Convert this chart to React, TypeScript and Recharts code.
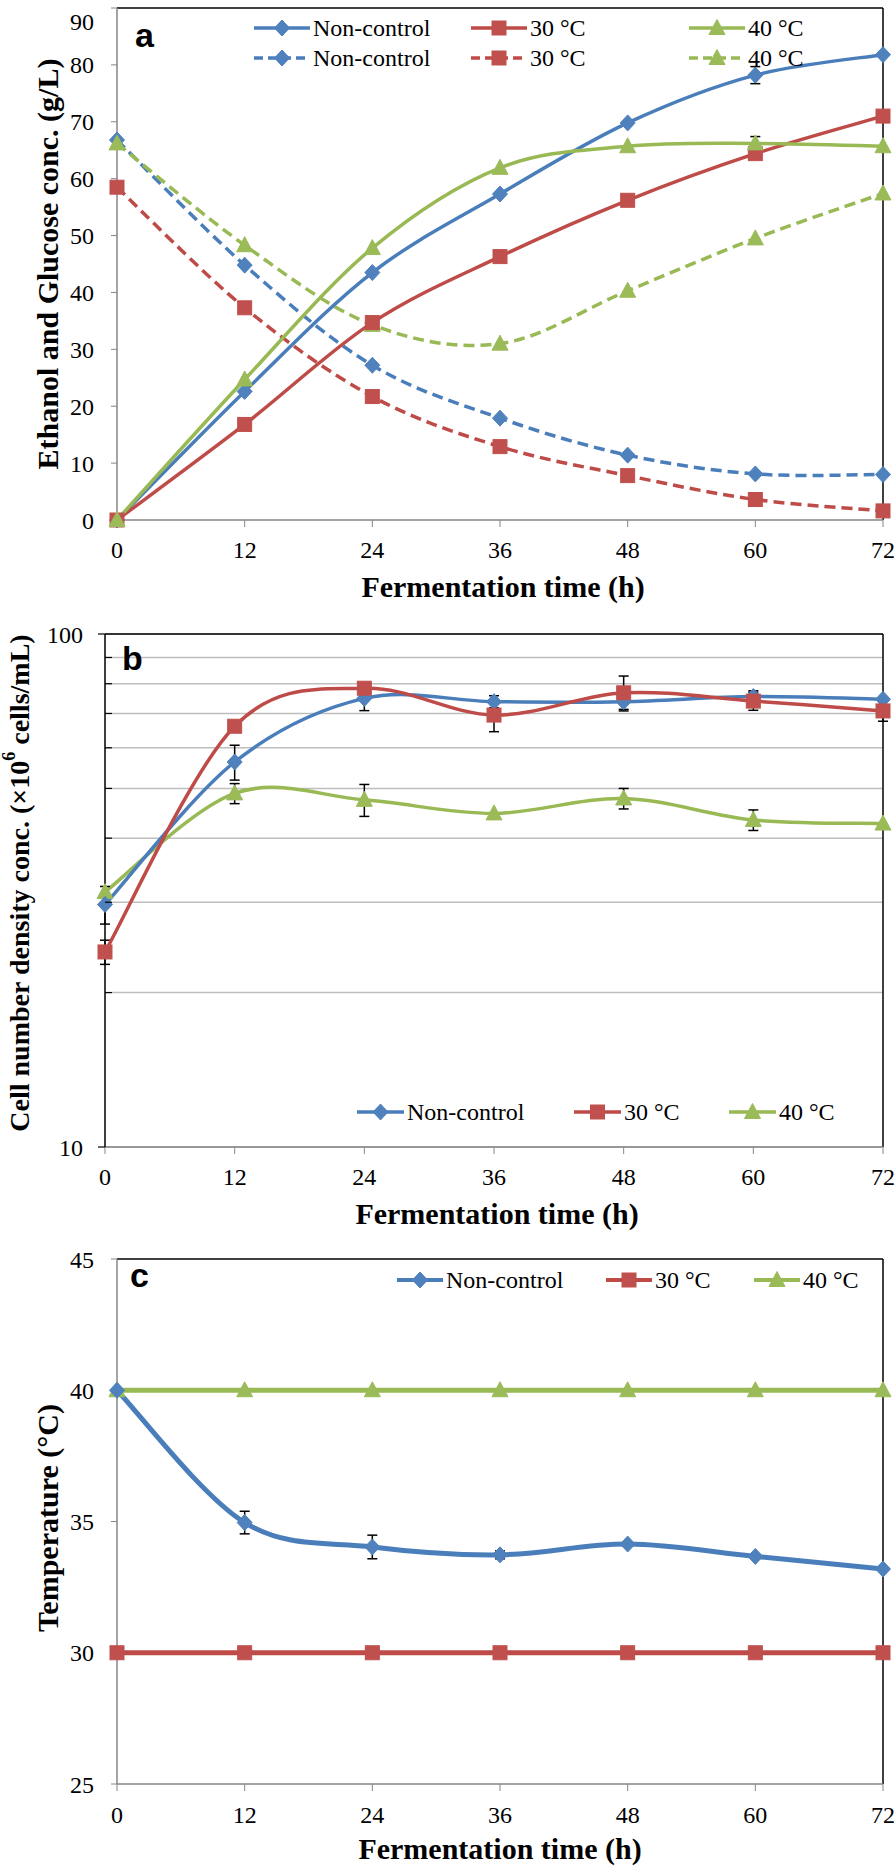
import React from 'react';
import { LineChart, Line, XAxis, YAxis, CartesianGrid, ErrorBar, ReferenceLine, Legend } from 'recharts';

// ---------- data ----------
const hours = [0, 12, 24, 36, 48, 60, 72];
const xTicks = [0, 12, 24, 36, 48, 60, 72];

// Panel a: ethanol (solid) and glucose (dashed), g/L
const ethanolNonControl = [0, 22.6, 43.5, 57.3, 69.8, 78.2, 81.8];
const ethanol30 = [0, 16.8, 34.7, 46.3, 56.2, 64.4, 71.0];
const ethanol40 = [0, 24.7, 47.8, 61.9, 65.7, 66.2, 65.7];
const glucoseNonControl = [66.8, 44.8, 27.2, 17.9, 11.4, 8.1, 8.0];
const glucose30 = [58.5, 37.3, 21.7, 12.9, 7.8, 3.6, 1.6];
const glucose40 = [66.2, 48.3, 34.3, 31.0, 40.3, 49.5, 57.4];
const ethanolNonControlErr = [null, null, null, null, null, 1.5, null];
const ethanol40Err = [null, null, null, null, null, 1.2, null];
const aTicks = [0, 10, 20, 30, 40, 50, 60, 70, 80, 90];

// Panel b: cell number density (x10^6 cells/mL), log axis
const cellNonControl = [29.7, 56.3, 74.9, 73.8, 73.8, 75.5, 74.6];
const cell30 = [24.0, 66.1, 78.4, 69.5, 76.8, 74.0, 70.8];
const cell40 = [31.4, 48.9, 47.5, 44.7, 47.8, 43.4, 42.7];
const cellNonControlErr = [2.5, 4.4, 4.0, 2.0, 2.5, 2.0, null];
const cell30Err = [1.3, null, 1.5, 5.0, 6.0, 3.0, 3.2];
const cell40Err = [null, 2.2, 3.4, null, 2.2, 2.0, null];
const bTicks = [10, 20, 30, 40, 50, 60, 70, 80, 90, 100];
const bMajorTicks = [10, 100];

// Panel c: temperature (°C)
const tempNonControl = [40, 34.96, 34.03, 33.73, 34.14, 33.67, 33.19];
const temp30 = [30, 30, 30, 30, 30, 30, 30];
const temp40 = [40, 40, 40, 40, 40, 40, 40];
const tempNonControlErr = [null, 0.43, 0.45, 0.15, null, null, null];
const cTicks = [25, 30, 35, 40, 45];

const seriesNames = ['Non-control', '30 °C', '40 °C'];

// ---------- styles ----------
const BLUE = '#4A7EBB';
const RED = '#BE4B48';
const GREEN = '#98B954';
const BLUE_M = '#4F81BD';
const RED_M = '#C0504D';
const GREEN_M = '#9BBB59';
const GRAY_AXIS = '#868686';
const SERIF = '"Liberation Serif", "Times New Roman", serif';
const SANS = '"Liberation Sans", Arial, sans-serif';

const rowsA = hours.map((h, i) => ({
  h,
  ethNC: ethanolNonControl[i],
  eth30: ethanol30[i],
  eth40: ethanol40[i],
  gluNC: glucoseNonControl[i],
  glu30: glucose30[i],
  glu40: glucose40[i],
  ethNCErr: ethanolNonControlErr[i],
  eth40Err: ethanol40Err[i],
}));

const rowsB = hours.map((h, i) => ({
  h,
  nc: cellNonControl[i],
  t30: cell30[i],
  t40: cell40[i],
  ncErr: cellNonControlErr[i],
  t30Err: cell30Err[i],
  t40Err: cell40Err[i],
}));

const rowsC = hours.map((h, i) => ({
  h,
  nc: tempNonControl[i],
  t30: temp30[i],
  t40: temp40[i],
  ncErr: tempNonControlErr[i],
}));

// Excel-like smoothed line (Catmull-Rom Bezier)
function excelCurve(context: any) {
  let pts: number[][] = [];
  return {
    areaStart() {},
    areaEnd() {},
    lineStart() {
      pts = [];
    },
    point(x: number, y: number) {
      pts.push([+x, +y]);
    },
    lineEnd() {
      const n = pts.length;
      if (!n) return;
      context.moveTo(pts[0][0], pts[0][1]);
      if (n === 1) return;
      if (n === 2) {
        context.lineTo(pts[1][0], pts[1][1]);
        return;
      }
      for (let i = 0; i < n - 1; i++) {
        const p0 = pts[i > 0 ? i - 1 : i];
        const p1 = pts[i];
        const p2 = pts[i + 1];
        const p3 = pts[i + 2 < n ? i + 2 : i + 1];
        context.bezierCurveTo(
          p1[0] + (p2[0] - p0[0]) / 6,
          p1[1] + (p2[1] - p0[1]) / 6,
          p2[0] - (p3[0] - p1[0]) / 6,
          p2[1] - (p3[1] - p1[1]) / 6,
          p2[0],
          p2[1]
        );
      }
    },
  };
}

type Shape = 'diamond' | 'square' | 'triangle';

function Marker({ cx, cy, shape, color }: { cx: number; cy: number; shape: Shape; color: string }) {
  if (shape === 'diamond') {
    return (
      <polygon
        points={`${cx},${cy - 8} ${cx + 7.5},${cy} ${cx},${cy + 8} ${cx - 7.5},${cy}`}
        fill={color}
        stroke={color}
        strokeWidth={1}
      />
    );
  }
  if (shape === 'square') {
    return <rect x={cx - 7} y={cy - 7} width={14} height={14} fill={color} stroke={color} strokeWidth={1} />;
  }
  return (
    <polygon
      points={`${cx},${cy - 8.5} ${cx + 8},${cy + 6.5} ${cx - 8},${cy + 6.5}`}
      fill={color}
      stroke={color}
      strokeWidth={1}
    />
  );
}

const makeDot = (shape: Shape, color: string) => (props: any) => {
  const { cx, cy, index } = props;
  if (cx == null || cy == null || isNaN(cx) || isNaN(cy)) return <g key={`d-${index}`} />;
  return (
    <g key={`d-${index}`}>
      <Marker cx={cx} cy={cy} shape={shape} color={color} />
    </g>
  );
};

type LegendEntry = { x: number; y: number; w: number; label: string; color: string; mcolor: string; shape: Shape; dashed?: boolean; lw: number };

function LegendItems({ items }: { items: LegendEntry[] }) {
  return (
    <div style={{ position: 'relative' }}>
      {items.map((it, i) => (
        <div
          key={i}
          style={{
            position: 'absolute',
            left: it.x,
            top: it.y - 14,
            height: 28,
            display: 'flex',
            alignItems: 'center',
            whiteSpace: 'nowrap',
          }}
        >
          <svg width={it.w} height={28} style={{ display: 'block' }}>
            <line
              x1={0}
              y1={14}
              x2={it.w}
              y2={14}
              stroke={it.color}
              strokeWidth={it.lw}
              strokeDasharray={it.dashed ? '9 5' : undefined}
            />
            <Marker cx={it.w / 2} cy={14} shape={it.shape} color={it.mcolor} />
          </svg>
          <span style={{ fontFamily: SERIF, fontSize: 24, color: '#000', marginLeft: 3, lineHeight: '28px' }}>
            {it.label}
          </span>
        </div>
      ))}
    </div>
  );
}

const YTitle = ({ cx, cy, size, children }: any) => (
  <text
    x={cx}
    y={cy}
    transform={`rotate(-90 ${cx} ${cy})`}
    textAnchor="middle"
    dominantBaseline="central"
    fontFamily={SERIF}
    fontWeight="bold"
    fontSize={size}
    fill="#000"
  >
    {children}
  </text>
);

const XTitle = ({ cx, by, text }: any) => (
  <text x={cx} y={by} textAnchor="middle" fontFamily={SERIF} fontWeight="bold" fontSize={30} fill="#000">
    {text}
  </text>
);

const tickStyle = { fill: '#000', fontSize: 24, fontFamily: SERIF };

// Y tick for panel a: keeps the top label inside the picture
const ATick = (props: any) => {
  const { x, y, payload } = props;
  const v = payload?.value;
  const shift = y < 20 ? 21 - y : 0;
  return (
    <text x={x} y={y + shift} dy="0.355em" textAnchor="end" fill="#000" fontSize={24} fontFamily={SERIF}>
      {v}
    </text>
  );
};

// Log axis tick: major ticks (with labels) outward, minor ticks inward
const LogTick = (props: any) => {
  const { x, y, payload } = props;
  const v = payload?.value;
  const axisX = x + 22;
  const major = bMajorTicks.includes(v);
  return (
    <g>
      <line x1={major ? axisX - 7 : axisX} y1={y} x2={major ? axisX : axisX + 7} y2={y} stroke="#000" strokeWidth={1.2} />
      {major ? (
        <text x={x} y={y} dy="0.355em" textAnchor="end" fill="#000" fontSize={24} fontFamily={SERIF}>
          {v}
        </text>
      ) : null}
    </g>
  );
};

const shapes: Shape[] = ['diamond', 'square', 'triangle'];
const lineColors = [BLUE, RED, GREEN];
const markColors = [BLUE_M, RED_M, GREEN_M];

const legendA: LegendEntry[] = [
  ...[254, 471, 689].map((x, i) => ({ x, y: 28, w: 56, label: seriesNames[i], color: lineColors[i], mcolor: markColors[i], shape: shapes[i], lw: 3.5 })),
  ...[254, 471, 689].map((x, i) => ({ x, y: 58, w: 56, label: seriesNames[i], color: lineColors[i], mcolor: markColors[i], shape: shapes[i], dashed: true, lw: 3.5 })),
];
const legendB: LegendEntry[] = [357, 574, 729].map((x, i) => ({
  x, y: 507, w: 47, label: seriesNames[i], color: lineColors[i], mcolor: markColors[i], shape: shapes[i], lw: 3.5,
}));
const legendC: LegendEntry[] = [397, 606, 754].map((x, i) => ({
  x, y: 35, w: 46, label: seriesNames[i], color: lineColors[i], mcolor: markColors[i], shape: shapes[i], lw: 4,
}));

const legendWrap = { left: 0, top: 0, width: 0, height: 0, position: 'absolute' as const };

function PanelA() {
  return (
    <LineChart width={896} height={620} data={rowsA} margin={{ top: 8, right: 13, bottom: 60, left: 57 }}>
      <XAxis
        dataKey="h"
        type="number"
        domain={[0, 72]}
        ticks={xTicks}
        height={40}
        tick={tickStyle}
        tickSize={7}
        tickMargin={14}
        axisLine={{ stroke: GRAY_AXIS, strokeWidth: 1.5 }}
        tickLine={{ stroke: GRAY_AXIS }}
        label={<XTitle cx={503} by={597} text="Fermentation time (h)" />}
      />
      <YAxis
        type="number"
        domain={[0, 90]}
        ticks={aTicks}
        width={60}
        tick={<ATick />}
        tickSize={6}
        tickMargin={17}
        interval={0}
        axisLine={{ stroke: GRAY_AXIS, strokeWidth: 1.5 }}
        tickLine={{ stroke: GRAY_AXIS }}
        label={<YTitle cx={47} cy={264} size={30}>Ethanol and Glucose conc. (g/L)</YTitle>}
      />
      <ReferenceLine y={90} stroke="#000" strokeWidth={1.5} />
      <ReferenceLine x={72} stroke="#000" strokeWidth={1.5} />
      <Legend content={() => <LegendItems items={legendA} />} wrapperStyle={legendWrap} />
      <Line dataKey="gluNC" type={excelCurve as any} stroke={BLUE} strokeWidth={3.5} strokeDasharray="11 6" dot={makeDot('diamond', BLUE_M)} isAnimationActive={false} />
      <Line dataKey="glu30" type={excelCurve as any} stroke={RED} strokeWidth={3.5} strokeDasharray="11 6" dot={makeDot('square', RED_M)} isAnimationActive={false} />
      <Line dataKey="glu40" type={excelCurve as any} stroke={GREEN} strokeWidth={3.5} strokeDasharray="11 6" dot={makeDot('triangle', GREEN_M)} isAnimationActive={false} />
      <Line dataKey="ethNC" type={excelCurve as any} stroke={BLUE} strokeWidth={3.5} dot={makeDot('diamond', BLUE_M)} isAnimationActive={false}>
        <ErrorBar dataKey="ethNCErr" direction="y" width={5} stroke="#000" strokeWidth={1.5} />
      </Line>
      <Line dataKey="eth30" type={excelCurve as any} stroke={RED} strokeWidth={3.5} dot={makeDot('square', RED_M)} isAnimationActive={false} />
      <Line dataKey="eth40" type={excelCurve as any} stroke={GREEN} strokeWidth={3.5} dot={makeDot('triangle', GREEN_M)} isAnimationActive={false}>
        <ErrorBar dataKey="eth40Err" direction="y" width={5} stroke="#000" strokeWidth={1.5} />
      </Line>
    </LineChart>
  );
}

function PanelB() {
  return (
    <LineChart width={896} height={638} data={rowsB} margin={{ top: 29, right: 13, bottom: 56, left: 45 }}>
      <CartesianGrid vertical={false} stroke="#BEBEBE" strokeWidth={1.5} />
      <XAxis
        dataKey="h"
        type="number"
        domain={[0, 72]}
        ticks={xTicks}
        height={40}
        tick={tickStyle}
        tickSize={7}
        tickMargin={14}
        axisLine={{ stroke: GRAY_AXIS, strokeWidth: 1.5 }}
        tickLine={{ stroke: GRAY_AXIS }}
        label={<XTitle cx={497} by={619} text="Fermentation time (h)" />}
      />
      <YAxis
        type="number"
        scale="log"
        domain={[10, 100]}
        allowDataOverflow
        ticks={bTicks}
        interval={0}
        width={60}
        tick={<LogTick />}
        tickSize={6}
        tickMargin={16}
        tickLine={false}
        axisLine={{ stroke: '#000', strokeWidth: 1.5 }}
        label={
          <YTitle cx={19} cy={278} size={28}>
            Cell number density conc. (×10<tspan baselineShift="super" fontSize={18}>6</tspan> cells/mL)
          </YTitle>
        }
      />
      <ReferenceLine y={100} stroke="#000" strokeWidth={1.5} />
      <ReferenceLine x={72} stroke="#000" strokeWidth={1.5} />
      <Legend content={() => <LegendItems items={legendB} />} wrapperStyle={legendWrap} />
      <Line dataKey="t40" type={excelCurve as any} stroke={GREEN} strokeWidth={3.5} dot={makeDot('triangle', GREEN_M)} isAnimationActive={false}>
        <ErrorBar dataKey="t40Err" direction="y" width={5} stroke="#000" strokeWidth={1.5} />
      </Line>
      <Line dataKey="nc" type={excelCurve as any} stroke={BLUE} strokeWidth={3.5} dot={makeDot('diamond', BLUE_M)} isAnimationActive={false}>
        <ErrorBar dataKey="ncErr" direction="y" width={5} stroke="#000" strokeWidth={1.5} />
      </Line>
      <Line dataKey="t30" type={excelCurve as any} stroke={RED} strokeWidth={3.5} dot={makeDot('square', RED_M)} isAnimationActive={false}>
        <ErrorBar dataKey="t30Err" direction="y" width={5} stroke="#000" strokeWidth={1.5} />
      </Line>
    </LineChart>
  );
}

function PanelC() {
  return (
    <LineChart width={896} height={624} data={rowsC} margin={{ top: 14, right: 13, bottom: 45, left: 57 }}>
      <XAxis
        dataKey="h"
        type="number"
        domain={[0, 72]}
        ticks={xTicks}
        height={40}
        tick={tickStyle}
        tickSize={7}
        tickMargin={15}
        axisLine={{ stroke: GRAY_AXIS, strokeWidth: 1.5 }}
        tickLine={{ stroke: GRAY_AXIS }}
        label={<XTitle cx={500} by={614} text="Fermentation time (h)" />}
      />
      <YAxis
        type="number"
        domain={[25, 45]}
        ticks={cTicks}
        interval={0}
        width={60}
        tick={tickStyle}
        tickSize={6}
        tickMargin={17}
        axisLine={{ stroke: GRAY_AXIS, strokeWidth: 1.5 }}
        tickLine={{ stroke: GRAY_AXIS }}
        label={<YTitle cx={47} cy={273} size={30}>Temperature (°C)</YTitle>}
      />
      <ReferenceLine y={45} stroke="#000" strokeWidth={1.5} />
      <ReferenceLine x={72} stroke="#000" strokeWidth={1.5} />
      <Legend content={() => <LegendItems items={legendC} />} wrapperStyle={legendWrap} />
      <Line dataKey="t30" type={excelCurve as any} stroke={RED} strokeWidth={5} dot={makeDot('square', RED_M)} isAnimationActive={false} />
      <Line dataKey="t40" type={excelCurve as any} stroke={GREEN} strokeWidth={5} dot={makeDot('triangle', GREEN_M)} isAnimationActive={false} />
      <Line dataKey="nc" type={excelCurve as any} stroke={BLUE} strokeWidth={5} dot={makeDot('diamond', BLUE_M)} isAnimationActive={false}>
        <ErrorBar dataKey="ncErr" direction="y" width={5} stroke="#000" strokeWidth={1.5} />
      </Line>
    </LineChart>
  );
}

export default function App() {
  return (
    <div style={{ position: 'absolute', left: 0, top: 0, width: 896, height: 1869, background: '#fff', overflow: 'hidden' }}>
      <div style={{ position: 'absolute', left: 0, top: 0 }}>
        <PanelA />
      </div>
      <div style={{ position: 'absolute', left: 0, top: 605 }}>
        <PanelB />
      </div>
      <div style={{ position: 'absolute', left: 0, top: 1245 }}>
        <PanelC />
      </div>
      <svg width={896} height={1869} style={{ position: 'absolute', left: 0, top: 0, pointerEvents: 'none' }}>
        <text x={135} y={47} fontFamily={SANS} fontWeight="bold" fontSize={34} fill="#000">a</text>
        <text x={122} y={670} fontFamily={SANS} fontWeight="bold" fontSize={34} fill="#000">b</text>
        <text x={130} y={1287} fontFamily={SANS} fontWeight="bold" fontSize={34} fill="#000">c</text>
      </svg>
    </div>
  );
}
